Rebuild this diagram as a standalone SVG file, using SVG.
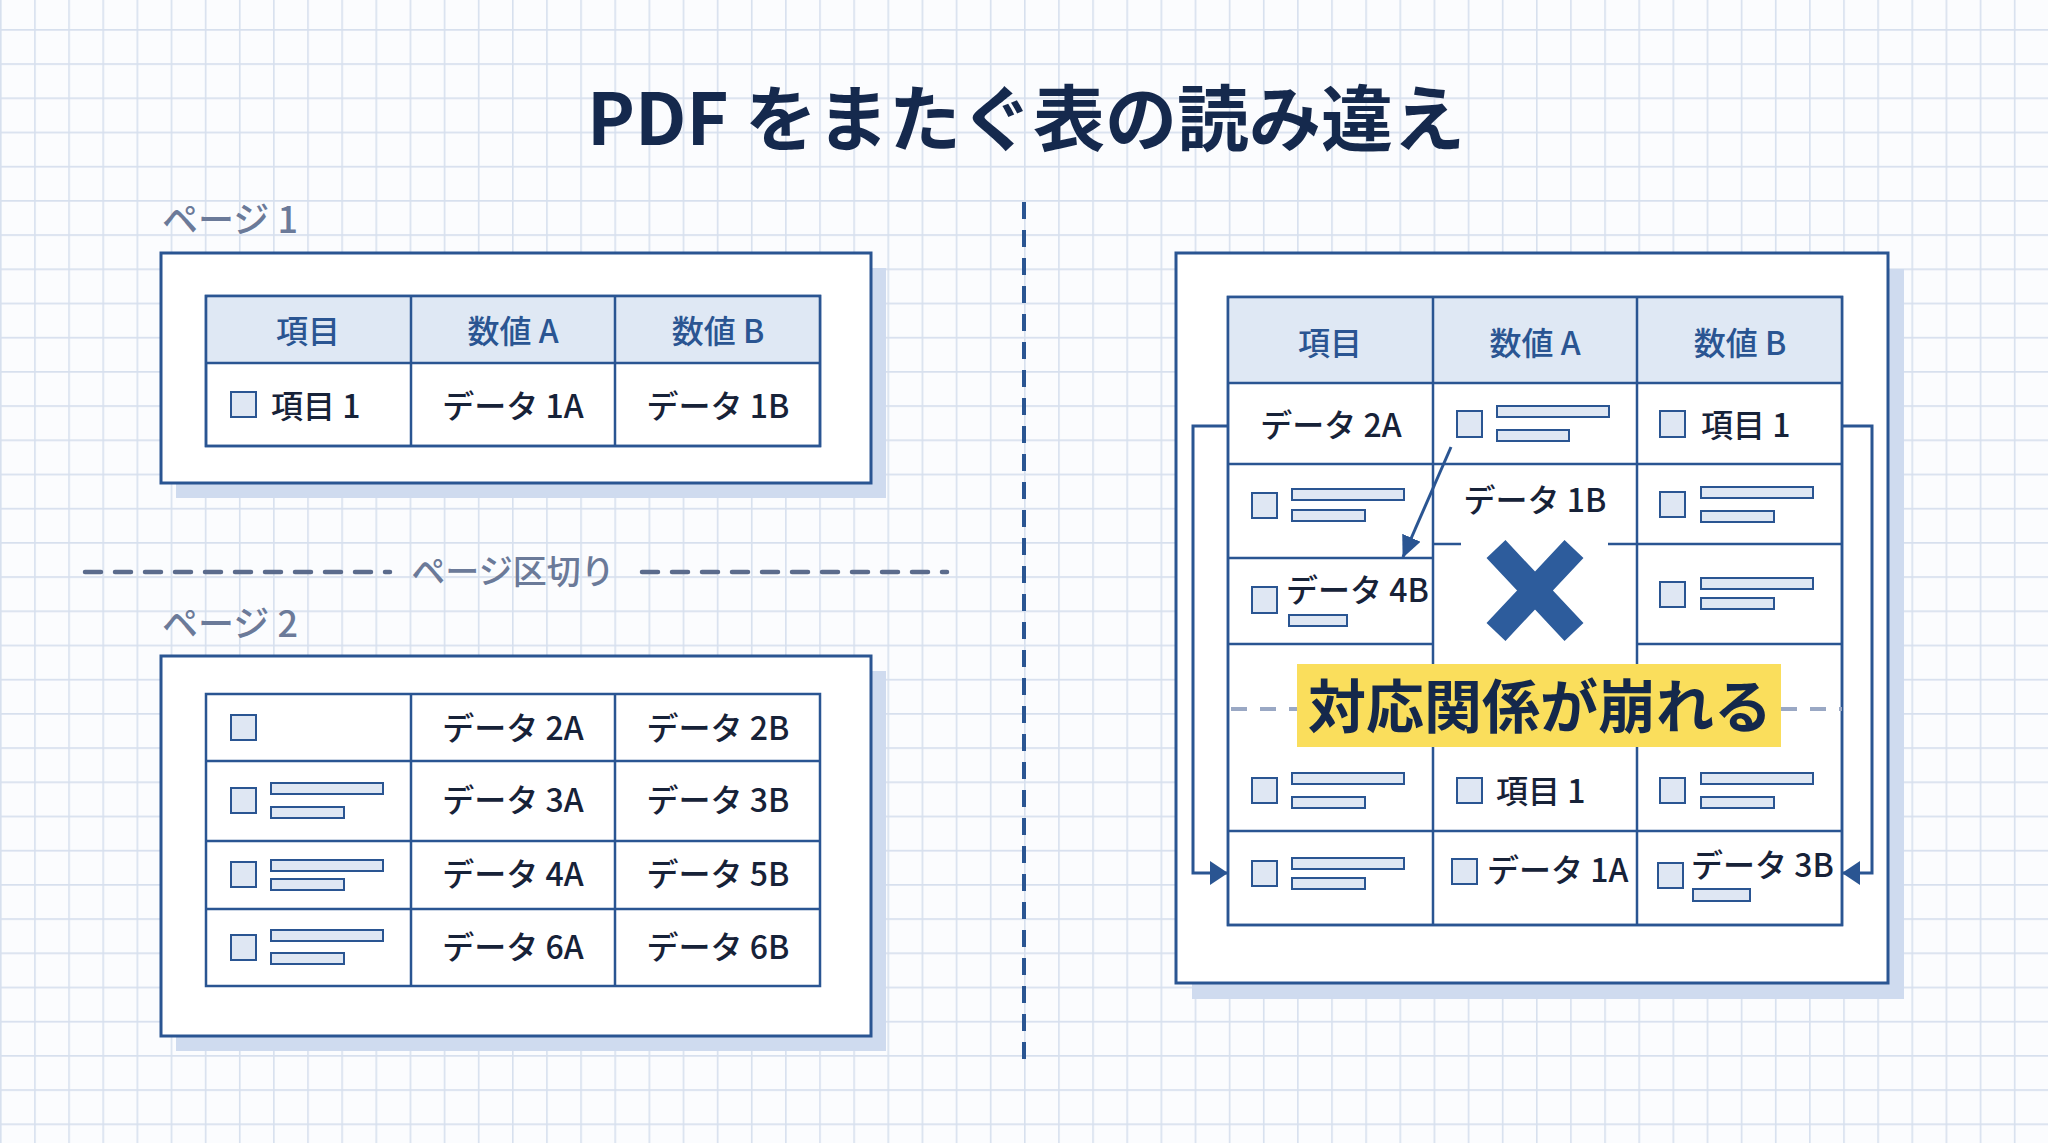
<svg xmlns="http://www.w3.org/2000/svg" width="2048" height="1143" viewBox="0 0 2048 1143">
<defs>
<pattern id="grid" patternUnits="userSpaceOnUse" x="0" y="29" width="34.133" height="34.2">
<path d="M0 0.8H34.133M0.8 0V34.2" stroke="#d7e0ee" stroke-width="1.6" fill="none"/>
</pattern>
<marker id="ah" viewBox="0 0 18 24" refX="17" refY="12" markerWidth="18" markerHeight="24" markerUnits="userSpaceOnUse" orient="auto">
<path d="M0 0L18 12L0 24z" fill="#2a5592"/>
</marker>
<marker id="ah2" viewBox="0 0 22 20" refX="21" refY="10" markerWidth="22" markerHeight="20" markerUnits="userSpaceOnUse" orient="auto">
<path d="M0 0L22 10L0 20z" fill="#2a5592"/>
</marker>
<style>
text{font-family:"Noto Sans CJK JP","Noto Sans",sans-serif;font-weight:500}
.title{font-size:72px;font-weight:700;fill:#15294d;text-anchor:middle}
.lbl{font-size:36px;fill:#6b7a99}
.brk{font-size:34px;fill:#6b7a99;text-anchor:middle}
.hdr{font-size:32px;fill:#2a5592;text-anchor:middle}
.dat{font-size:32px;fill:#172238}
.mid{text-anchor:middle}
.page{fill:#fff;stroke:#2a5592;stroke-width:3}
.shadow{fill:#cfdbef}
.tbl{fill:#fff;stroke:#2a5592;stroke-width:2.5}
.ln{stroke:#2a5592;stroke-width:2.5;fill:none}
.head{fill:#dfe8f4}
.cb{fill:#dfe7f3;stroke:#2a5592;stroke-width:2}
.bar{fill:#dfe7f3;stroke:#2a5592;stroke-width:2}
.conn{stroke:#2a5592;stroke-width:3;fill:none}
</style>
</defs>
<rect width="2048" height="1143" fill="#fbfcfe"/>
<rect width="2048" height="1143" fill="url(#grid)"/>

<g id="title"><text class="title" x="1026" y="145">PDF をまたぐ表の読み違え</text></g>

<g id="page1">
<text class="lbl" x="162" y="233">ページ 1</text>
<rect class="shadow" x="176" y="268" width="710" height="230"/>
<rect class="page" x="161" y="253" width="710" height="230"/>
<rect class="tbl" x="206" y="296" width="614" height="150"/>
<rect class="head" x="207.5" y="297.5" width="611" height="65"/>
<path class="ln" d="M206 363H820M411 296V446M615 296V446"/>
<rect class="tbl" x="206" y="296" width="614" height="150" style="fill:none"/>
<text class="hdr" x="308" y="343">項目</text>
<text class="hdr" x="513" y="343">数値 A</text>
<text class="hdr" x="718" y="343">数値 B</text>
<rect class="cb" x="231" y="392" width="25" height="25"/>
<text class="dat" x="271" y="418">項目 1</text>
<text class="dat mid" x="513" y="418">データ 1A</text>
<text class="dat mid" x="718" y="418">データ 1B</text>
</g>

<g id="page-break">
<path d="M85 572H390M642 572H947" stroke="#5b6b8c" stroke-width="4.5" stroke-linecap="round" stroke-dasharray="16 14" fill="none"/>
<text class="brk" x="513" y="584">ページ区切り</text>
</g>

<g id="page2">
<text class="lbl" x="162" y="637">ページ 2</text>
<rect class="shadow" x="176" y="671" width="710" height="380"/>
<rect class="page" x="161" y="656" width="710" height="380"/>
<rect class="tbl" x="206" y="694" width="614" height="292"/>
<path class="ln" d="M206 761H820M206 841H820M206 909H820M411 694V986M615 694V986"/>
<rect class="cb" x="231" y="715" width="25" height="25"/>
<text class="dat mid" x="513" y="740">データ 2A</text>
<text class="dat mid" x="718" y="740">データ 2B</text>
<rect class="cb" x="231" y="788" width="25" height="25"/>
<rect class="bar" x="271" y="783" width="112" height="11"/>
<rect class="bar" x="271" y="807" width="73" height="11"/>
<text class="dat mid" x="513" y="812">データ 3A</text>
<text class="dat mid" x="718" y="812">データ 3B</text>
<rect class="cb" x="231" y="862" width="25" height="25"/>
<rect class="bar" x="271" y="860" width="112" height="11"/>
<rect class="bar" x="271" y="879" width="73" height="11"/>
<text class="dat mid" x="513" y="886">データ 4A</text>
<text class="dat mid" x="718" y="886">データ 5B</text>
<rect class="cb" x="231" y="935" width="25" height="25"/>
<rect class="bar" x="271" y="930" width="112" height="11"/>
<rect class="bar" x="271" y="953" width="73" height="11"/>
<text class="dat mid" x="513" y="959">データ 6A</text>
<text class="dat mid" x="718" y="959">データ 6B</text>
</g>

<g id="divider">
<path d="M1024 202V1066" stroke="#2a5592" stroke-width="4" stroke-dasharray="17 11" fill="none"/>
</g>

<g id="merged-page">
<rect class="shadow" x="1192" y="269" width="712" height="730"/>
<rect class="page" x="1176" y="253" width="712" height="730"/>
<rect class="tbl" x="1228" y="297" width="614" height="628"/>
<rect class="head" x="1229.5" y="298.5" width="611" height="84"/>
<path class="ln" d="M1228 383H1842M1228 464H1842M1433 297V925M1637 297V925M1228 558H1433M1228 644H1433M1637 544H1842M1637 644H1842M1433 544H1461M1608 544H1637M1228 831H1842"/>
<rect class="tbl" x="1228" y="297" width="614" height="628" style="fill:none"/>
<text class="hdr" x="1330" y="355">項目</text>
<text class="hdr" x="1535" y="355">数値 A</text>
<text class="hdr" x="1740" y="355">数値 B</text>

<text class="dat mid" x="1331" y="437">データ 2A</text>
<rect class="cb" x="1457" y="411" width="25" height="26"/>
<rect class="bar" x="1497" y="406" width="112" height="11"/>
<rect class="bar" x="1497" y="430" width="72" height="11"/>
<rect class="cb" x="1660" y="411" width="25" height="26"/>
<text class="dat" x="1701" y="437">項目 1</text>

<rect class="cb" x="1252" y="493" width="25" height="25"/>
<rect class="bar" x="1292" y="489" width="112" height="11"/>
<rect class="bar" x="1292" y="510" width="73" height="11"/>
<text class="dat mid" x="1535" y="512">データ 1B</text>
<rect class="cb" x="1660" y="492" width="25" height="25"/>
<rect class="bar" x="1701" y="487" width="112" height="11"/>
<rect class="bar" x="1701" y="511" width="73" height="11"/>

<rect class="cb" x="1252" y="587" width="25" height="26"/>
<text class="dat" x="1286" y="602">データ 4B</text>
<rect class="bar" x="1289" y="615" width="58" height="11"/>
<rect class="cb" x="1660" y="582" width="25" height="25"/>
<rect class="bar" x="1701" y="578" width="112" height="11"/>
<rect class="bar" x="1701" y="598" width="73" height="11"/>

<path d="M1496 549L1574 632M1574 549L1496 632" stroke="#2d5c9c" stroke-width="26" fill="none"/>

<path d="M1231 709H1297M1781 709H1842" stroke="#9aa8c4" stroke-width="4" stroke-dasharray="16 13" fill="none"/>
<rect x="1297" y="664" width="484" height="83" fill="#fade5c"/>
<text x="1540" y="728" font-size="58" style="font-weight:700" fill="#14284b" text-anchor="middle">対応関係が崩れる</text>

<rect class="cb" x="1252" y="778" width="25" height="25"/>
<rect class="bar" x="1292" y="773" width="112" height="11"/>
<rect class="bar" x="1292" y="797" width="73" height="11"/>
<rect class="cb" x="1457" y="778" width="25" height="25"/>
<text class="dat" x="1496" y="803">項目 1</text>
<rect class="cb" x="1660" y="778" width="25" height="25"/>
<rect class="bar" x="1701" y="773" width="112" height="11"/>
<rect class="bar" x="1701" y="797" width="73" height="11"/>

<rect class="cb" x="1252" y="861" width="25" height="25"/>
<rect class="bar" x="1292" y="858" width="112" height="11"/>
<rect class="bar" x="1292" y="878" width="73" height="11"/>
<rect class="cb" x="1452" y="859" width="25" height="25"/>
<text class="dat" x="1487" y="882">データ 1A</text>
<rect class="cb" x="1658" y="863" width="25" height="25"/>
<text class="dat" x="1691" y="877">データ 3B</text>
<rect class="bar" x="1693" y="889" width="57" height="12"/>
</g>

<g id="connectors">
<path class="conn" d="M1228 426H1193V873H1227" marker-end="url(#ah)"/>
<path class="conn" d="M1842 426H1872V873H1843" marker-end="url(#ah)"/>
<path class="conn" d="M1451 447L1403 557" marker-end="url(#ah2)"/>
</g>
</svg>
